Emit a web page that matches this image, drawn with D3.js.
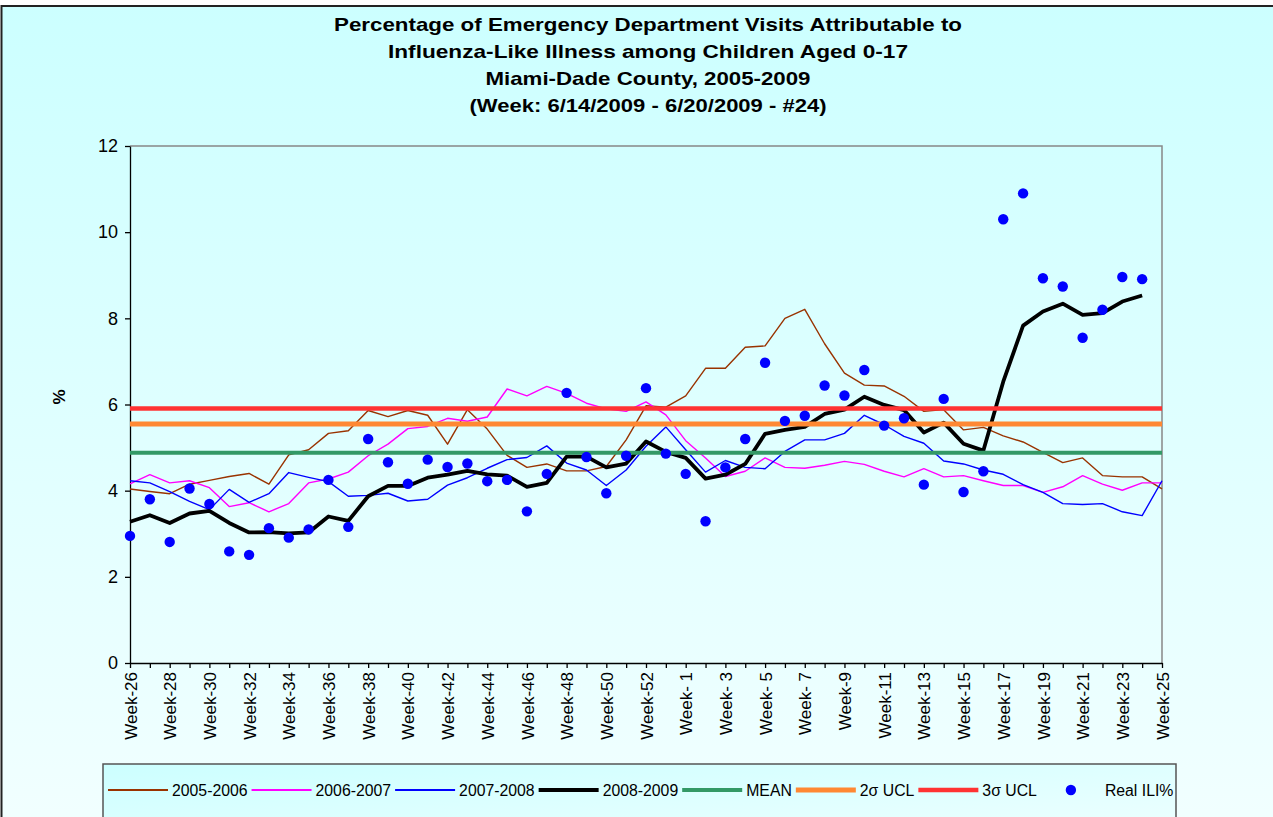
<!DOCTYPE html>
<html>
<head>
<meta charset="utf-8">
<script src="https://cdn.jsdelivr.net/npm/d3@7"></script>
<style>
  body { margin: 0; background: #fff; }
  text { font-family: "Liberation Sans", Arial, sans-serif; }
</style>
</head>
<body>
<svg width="1273" height="817"></svg>
<script>
// weeks of the season, Week-26 (2008) .. Week-25 (2009)
var weeks = ["Week-26","Week-27","Week-28","Week-29","Week-30","Week-31","Week-32","Week-33","Week-34","Week-35",
  "Week-36","Week-37","Week-38","Week-39","Week-40","Week-41","Week-42","Week-43","Week-44","Week-45",
  "Week-46","Week-47","Week-48","Week-49","Week-50","Week-51","Week-52","Week-53",
  "Week- 1","Week- 2","Week- 3","Week- 4","Week- 5","Week- 6","Week- 7","Week- 8","Week-9","Week-10",
  "Week-11","Week-12","Week-13","Week-14","Week-15","Week-16","Week-17","Week-18","Week-19","Week-20",
  "Week-21","Week-22","Week-23","Week-24","Week-25"];

var s2005 = [4.04,3.98,3.93,4.15,4.24,4.33,4.40,4.15,4.83,4.95,5.33,5.39,5.86,5.72,5.86,5.75,5.08,5.88,5.43,4.82,
  4.54,4.62,4.46,4.46,4.56,5.18,5.97,5.94,
  6.20,6.84,6.84,7.33,7.36,8.00,8.21,7.41,6.73,6.45,6.43,6.19,5.84,5.88,5.41,5.47,5.27,5.13,4.89,4.65,
  4.76,4.35,4.32,4.32,4.04];
var s2006 = [4.16,4.37,4.18,4.23,4.07,3.63,3.72,3.51,3.70,4.18,4.27,4.43,4.81,5.08,5.44,5.49,5.68,5.61,5.71,6.36,
  6.20,6.42,6.26,6.03,5.90,5.84,6.06,5.76,
  5.16,4.76,4.33,4.45,4.76,4.54,4.52,4.59,4.68,4.61,4.45,4.32,4.51,4.32,4.35,4.23,4.12,4.12,3.96,4.09,
  4.35,4.15,4.01,4.18,4.18];
var s2007 = [4.23,4.18,3.98,3.75,3.56,4.03,3.73,3.93,4.42,4.31,4.21,3.87,3.89,3.94,3.76,3.80,4.13,4.30,4.52,4.72,
  4.77,5.04,4.64,4.48,4.12,4.48,5.03,5.48,
  4.95,4.43,4.70,4.54,4.51,4.91,5.18,5.18,5.33,5.75,5.53,5.26,5.10,4.69,4.62,4.48,4.38,4.14,3.96,3.70,
  3.68,3.70,3.51,3.42,4.23];
var s2008 = [3.28,3.43,3.25,3.47,3.53,3.25,3.03,3.04,3.01,3.03,3.40,3.30,3.87,4.11,4.11,4.30,4.37,4.46,4.38,4.35,
  4.09,4.18,4.79,4.79,4.54,4.63,5.14,4.90,
  4.76,4.28,4.37,4.62,5.32,5.41,5.48,5.78,5.88,6.18,5.99,5.87,5.35,5.58,5.09,4.93,6.53,7.83,8.16,8.34,
  8.08,8.12,8.39,8.53,null];
var realIli = [2.95,3.80,2.81,4.05,3.69,2.59,2.51,3.13,2.91,3.10,4.25,3.16,5.20,4.66,4.16,4.72,4.55,4.63,4.22,4.25,
  3.52,4.39,6.27,4.78,3.94,4.81,6.38,4.86,
  4.39,3.29,4.54,5.20,6.97,5.62,5.74,6.44,6.21,6.80,5.51,5.68,4.14,6.13,3.97,4.45,10.30,10.90,8.93,8.74,
  7.55,8.20,8.96,8.91,null];

var meanVal = 4.88, ucl2 = 5.55, ucl3 = 5.91;
var yTicks = [0, 2, 4, 6, 8, 10, 12];

var titleLines = ["Percentage of Emergency Department Visits Attributable to",
  "Influenza-Like Illness among Children Aged 0-17",
  "Miami-Dade County, 2005-2009",
  "(Week: 6/14/2009 - 6/20/2009 - #24)"];
var titleWidths = [628, 520, 325, 357];

var svg = d3.select("svg");

var defs = svg.append("defs");
var bg = defs.append("linearGradient").attr("id", "bg").attr("x1", 0).attr("y1", 0).attr("x2", 0).attr("y2", 1);
bg.append("stop").attr("offset", "0%").attr("stop-color", "#ccffff");
bg.append("stop").attr("offset", "100%").attr("stop-color", "#f2ffff");
var lg = defs.append("linearGradient").attr("id", "lg").attr("x1", 0).attr("y1", 0).attr("x2", 1).attr("y2", 1);
lg.append("stop").attr("offset", "0%").attr("stop-color", "#ccffff");
lg.append("stop").attr("offset", "100%").attr("stop-color", "#f0ffff");

// chart area
svg.append("rect").attr("x", 1.5).attr("y", 6).attr("width", 1290).attr("height", 830)
  .style("fill", "url(#bg)").style("stroke", "#222").style("stroke-width", 2);

var xScale = d3.scalePoint().domain(weeks).range([130, 1162]).padding(0);
var yScale = d3.scaleLinear().domain([0, 12]).range([663, 146]);

// plot border (top/right)
svg.append("path")
  .attr("d", "M" + xScale.range()[0] + "," + yScale(12) + "H" + xScale.range()[1] + "V" + yScale(0))
  .style("fill", "none").style("stroke", "#888").style("stroke-width", 1.5);

// title
svg.append("g").selectAll("text").data(titleLines).enter().append("text")
  .attr("x", 648).attr("y", (d, i) => 31 + i * 27)
  .attr("text-anchor", "middle")
  .attr("textLength", (d, i) => titleWidths[i]).attr("lengthAdjust", "spacingAndGlyphs")
  .style("font-size", "19px").style("font-weight", "bold").style("fill", "#000")
  .text(d => d);

// axes
var xAxis = d3.axisBottom(xScale).tickSize(5).tickSizeOuter(0)
  .tickFormat((d, i) => i % 2 === 0 ? d : "");
var gx = svg.append("g").attr("class", "x axis")
  .attr("transform", "translate(0," + yScale(0) + ")").call(xAxis);
gx.selectAll("text").attr("transform", "rotate(-90)")
  .attr("x", -9).attr("y", 0).attr("dy", "0.36em")
  .style("text-anchor", "end").style("font-size", "17px").style("fill", "#000");

var yAxis = d3.axisLeft(yScale).tickValues(yTicks).tickSize(5).tickSizeOuter(0).tickPadding(7);
var gy = svg.append("g").attr("class", "y axis")
  .attr("transform", "translate(" + xScale.range()[0] + ",0)").call(yAxis);
gy.selectAll("text").style("font-size", "18px").style("fill", "#000");

svg.selectAll(".axis path, .axis line").style("stroke", "#000").style("stroke-width", 1.3);

svg.append("text").attr("transform", "translate(65,397) rotate(-90)")
  .attr("text-anchor", "middle").style("font-size", "17px").style("font-weight", "bold")
  .text("%");

// series lines
var line = d3.line()
  .defined(d => d.v != null)
  .x(d => xScale(d.w)).y(d => yScale(d.v));

var series = [
  { name: "2005-2006", values: s2005, color: "#993300", width: 1.4 },
  { name: "2006-2007", values: s2006, color: "#ff00ff", width: 1.4 },
  { name: "2007-2008", values: s2007, color: "#0000ff", width: 1.4 },
  { name: "2008-2009", values: s2008, color: "#000000", width: 3.8 }
];

series.forEach(function(s) {
  svg.append("path")
    .datum(weeks.map((w, i) => ({ w: w, v: s.values[i] })))
    .attr("d", line)
    .style("fill", "none").style("stroke", s.color).style("stroke-width", s.width)
    .style("stroke-linejoin", "round");
});

// reference lines
var refs = [
  { name: "MEAN", value: meanVal, color: "#339966", width: 4 },
  { name: "2\u03c3 UCL", value: ucl2, color: "#ff8833", width: 5 },
  { name: "3\u03c3 UCL", value: ucl3, color: "#ff3333", width: 4.5 }
];
svg.append("g").selectAll("line").data(refs).enter().append("line")
  .attr("x1", xScale(weeks[0])).attr("x2", xScale(weeks[weeks.length - 1]))
  .attr("y1", d => yScale(d.value)).attr("y2", d => yScale(d.value))
  .style("stroke", d => d.color).style("stroke-width", d => d.width);

// real ILI% dots
svg.append("g").selectAll("circle")
  .data(weeks.map((w, i) => ({ w: w, v: realIli[i] })).filter(d => d.v != null))
  .enter().append("circle")
  .attr("cx", d => xScale(d.w)).attr("cy", d => yScale(d.v)).attr("r", 5.2)
  .style("fill", "#0000ff");

// legend
svg.append("rect").attr("x", 103).attr("y", 764).attr("width", 1073).attr("height", 80)
  .style("fill", "url(#lg)").style("stroke", "#555").style("stroke-width", 1.5);

var legendItems = series.map(s => ({ name: s.name, color: s.color, width: s.width, type: "line" }))
  .concat(refs.map(r => ({ name: r.name, color: r.color, width: r.width, type: "line" })))
  .concat([{ name: "Real ILI%", color: "#0000ff", type: "dot" }]);

var lx = 108, ly = 790;
var legend = svg.append("g");
legendItems.forEach(function(it) {
  if (it.type === "line") {
    legend.append("line").attr("x1", lx).attr("x2", lx + 60).attr("y1", ly).attr("y2", ly)
      .style("stroke", it.color).style("stroke-width", Math.max(it.width, 2));
  } else {
    legend.append("circle").attr("cx", lx + 30).attr("cy", ly).attr("r", 5.2).style("fill", it.color);
  }
  var t = legend.append("text").attr("x", lx + 64).attr("y", ly).attr("dy", "0.35em")
    .style("font-size", "15.8px").style("fill", "#000").text(it.name);
  lx = lx + 64 + t.node().getComputedTextLength() + 4;
});
</script>
</body>
</html>
